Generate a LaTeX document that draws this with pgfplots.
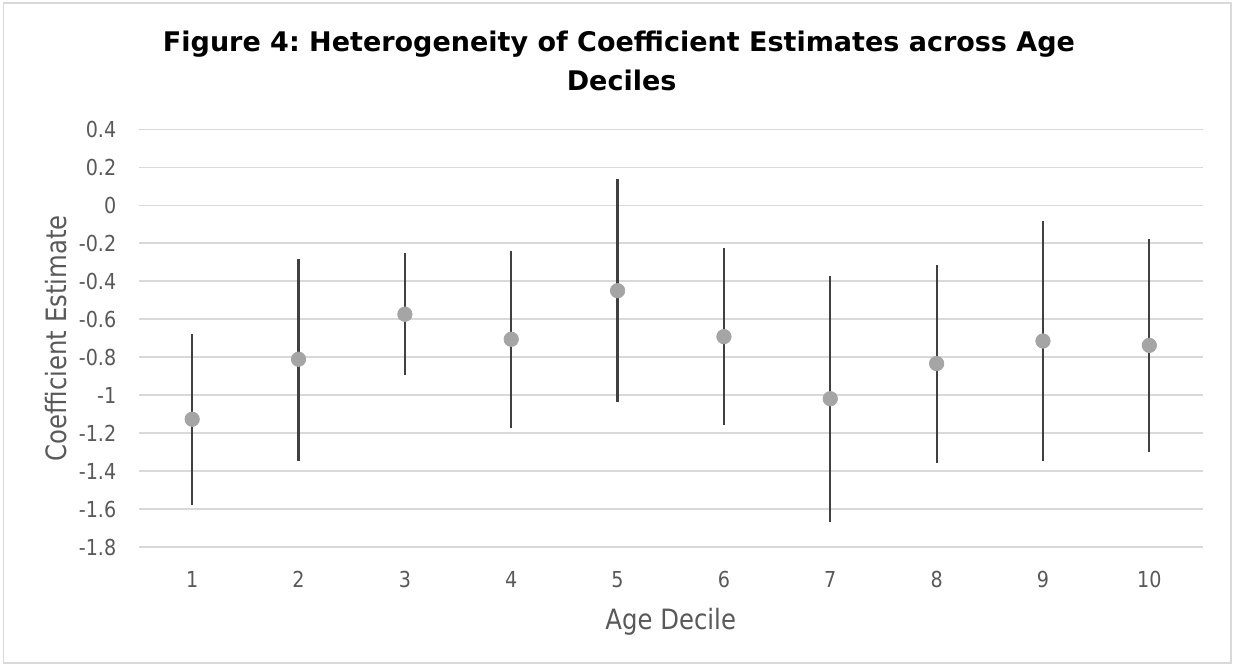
\documentclass[border=0pt]{standalone}
\usepackage{pgfplots}
\pgfplotsset{compat=1.18}
\usepackage{pgfplotstable}
\usepackage{fontspec}
\setmainfont{DejaVu Sans}[FakeStretch=0.87]
\newfontfamily\titlefont{DejaVu Sans}
\frenchspacing
\definecolor{gridc}{HTML}{D9D9D9}
\definecolor{txt}{HTML}{595959}
\definecolor{mk}{HTML}{A5A5A5}
\definecolor{barc}{HTML}{404040}
\pgfplotstableread{
x y lo hi
1 -1.127 -1.580 -0.678
2 -0.811 -1.345 -0.281
3 -0.574 -0.895 -0.253
4 -0.706 -1.171 -0.242
5 -0.450 -1.034 0.137
6 -0.692 -1.159 -0.223
7 -1.019 -1.666 -0.371
8 -0.834 -1.357 -0.315
9 -0.715 -1.345 -0.084
10 -0.738 -1.301 -0.178
}\datatab
\begin{document}
\begin{tikzpicture}
\path[use as bounding box] (0pt,0pt) rectangle (616.5pt,-332.5pt);
\draw[gridc, line width=0.75pt] (1.75pt,-1.5pt) rectangle (615.5pt,-331.5pt);
\node[anchor=base, inner sep=0pt, font=\titlefont\fontsize{13.5}{16}\selectfont\bfseries] at (309.5pt,-25.85pt) {Figure 4: Heterogeneity of Coefficient Estimates across Age};
\node[anchor=base, inner sep=0pt, font=\titlefont\fontsize{13.5}{16}\selectfont\bfseries] at (310.8pt,-45pt) {Deciles};
\begin{axis}[
  at={(69.5pt,-64.65pt)}, anchor=north west,
  scale only axis, width=531.75pt, height=208.85pt,
  xmin=0.5, xmax=10.5, ymin=-1.8, ymax=0.4,
  xtick={1,2,3,4,5,6,7,8,9,10},
  xticklabels={1,2,3,4,5,6,7,8,9,10},
  ytick={-1.8,-1.6,-1.4,-1.2,-1,-0.8,-0.6,-0.4,-0.2,0,0.2,0.4},
  yticklabels={-1.8,-1.6,-1.4,-1.2,-1,-0.8,-0.6,-0.4,-0.2,0,0.2,0.4},
  /pgf/number format/assume math mode=true,
  axis line style={draw=none},
  major tick style={draw=none},
  ymajorgrids, grid style={gridc, line width=0.75pt},
  ticklabel style={font=\fontsize{11}{13}\selectfont, text=txt, inner sep=0pt},
  yticklabel style={anchor=east, xshift=-11.2pt},
  xticklabel style={anchor=north, yshift=-12pt},
  xlabel={Age Decile}, ylabel={Coefficient Estimate},
  label style={font=\fontsize{14}{16}\selectfont, text=txt, inner sep=0pt},
  xlabel style={at={(axis description cs:0.5,0)}, anchor=base, yshift=-41.2pt},
  ylabel style={at={(axis description cs:0,0.5)}, anchor=base, yshift=36.2pt},
  clip=false,
]
\addplot[mk, only marks, mark=*, mark size=3.6pt, mark options={fill=mk, draw=mk},
  error bars/.cd, y dir=both, y explicit, error mark=none,
  error bar style={barc, line width=1.1pt}]
  table[x=x, y=y, y error plus expr=\thisrow{hi}-\thisrow{y}, y error minus expr=\thisrow{y}-\thisrow{lo}] {\datatab};
\end{axis}
\end{tikzpicture}
\end{document}
